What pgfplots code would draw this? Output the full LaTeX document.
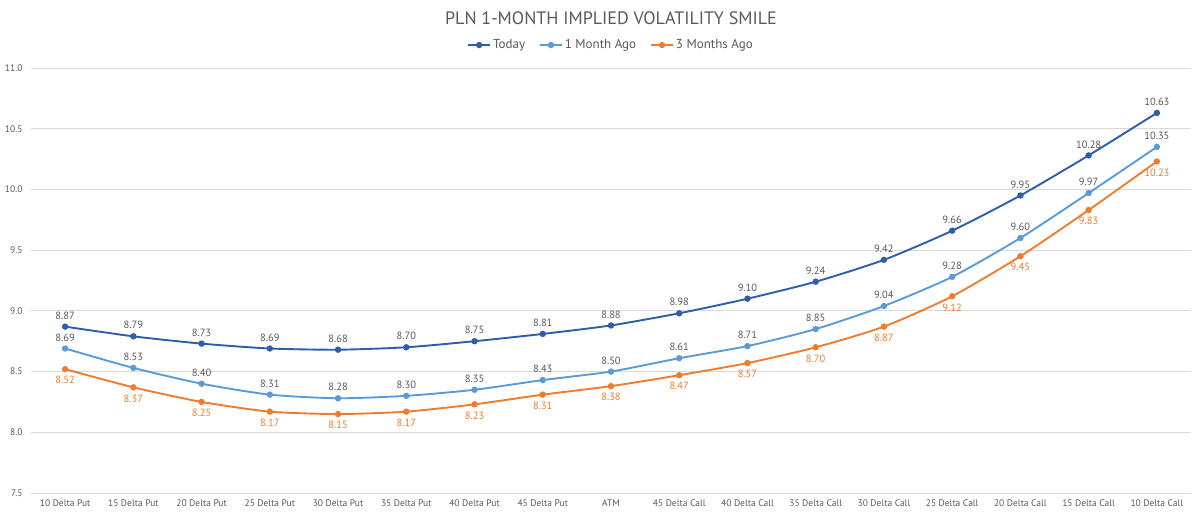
\documentclass[border=0pt]{standalone}
\usepackage{pgfplots}
\pgfplotsset{compat=1.18}
\usepackage{fontspec}
\setmainfont{PT Sans}
\definecolor{cToday}{HTML}{2E5EAA}
\definecolor{cOne}{HTML}{5B9BD5}
\definecolor{cThree}{HTML}{ED7D31}
\definecolor{cLab}{HTML}{595959}
\definecolor{cGrid}{HTML}{D9D9D9}
\begin{document}
\begin{tikzpicture}
\begin{axis}[
  scale only axis, width=1160pt, height=425pt,
  xmin=-0.5, xmax=16.5, ymin=7.5, ymax=11.0,
  ytick={7.5,8.0,...,11.0},
  yticklabel style={/pgf/number format/fixed,/pgf/number format/fixed zerofill,/pgf/number format/precision=1,font=\fontsize{9.5}{11}\selectfont,text=cLab,xshift=-5pt},
  /pgf/number format/assume math mode=true,
  xtick={0,...,16},
  xticklabels={10 Delta Put,15 Delta Put,20 Delta Put,25 Delta Put,30 Delta Put,35 Delta Put,40 Delta Put,45 Delta Put,ATM,45 Delta Call,40 Delta Call,35 Delta Call,30 Delta Call,25 Delta Call,20 Delta Call,15 Delta Call,10 Delta Call},
  xticklabel style={font=\fontsize{9.5}{11}\selectfont,text=cLab,yshift=-3pt},
  major tick length=0pt,
  axis line style={draw=none},
  ymajorgrids, grid style={cGrid,line width=0.8pt},
  legend columns=3,
  legend style={at={(0.5,1.054)},anchor=center,draw=none,fill=none,font=\fontsize{13}{15}\selectfont,text=cLab,/tikz/every even column/.append style={column sep=12pt}},
  legend image code/.code={\draw[#1,line width=1.8pt] (0pt,0pt)--(22pt,0pt); \fill[#1] (11pt,0pt) circle (2.2pt);},
  nodes near coords,
  point meta=y,
  every node near coord/.append style={font=\fontsize{10.5}{12}\selectfont,/pgf/number format/fixed,/pgf/number format/fixed zerofill,/pgf/number format/precision=2},
  clip=false,
]
\addplot[cToday,line width=1.9pt,mark=*,mark size=2.2pt,smooth,tension=0.4,
  every node near coord/.append style={text=cLab,anchor=south,yshift=3pt}]
  coordinates {(0,8.87)(1,8.79)(2,8.73)(3,8.69)(4,8.68)(5,8.70)(6,8.75)(7,8.81)(8,8.88)(9,8.98)(10,9.10)(11,9.24)(12,9.42)(13,9.66)(14,9.95)(15,10.28)(16,10.63)};
\addlegendentry{Today}
\addplot[cOne,line width=1.9pt,mark=*,mark size=2.2pt,smooth,tension=0.4,
  every node near coord/.append style={text=cLab,anchor=south,yshift=3pt}]
  coordinates {(0,8.69)(1,8.53)(2,8.40)(3,8.31)(4,8.28)(5,8.30)(6,8.35)(7,8.43)(8,8.50)(9,8.61)(10,8.71)(11,8.85)(12,9.04)(13,9.28)(14,9.60)(15,9.97)(16,10.35)};
\addlegendentry{1 Month Ago}
\addplot[cThree,line width=1.9pt,mark=*,mark size=2.2pt,smooth,tension=0.4,
  every node near coord/.append style={text=cThree,anchor=north,yshift=-3pt}]
  coordinates {(0,8.52)(1,8.37)(2,8.25)(3,8.17)(4,8.15)(5,8.17)(6,8.23)(7,8.31)(8,8.38)(9,8.47)(10,8.57)(11,8.70)(12,8.87)(13,9.12)(14,9.45)(15,9.83)(16,10.23)};
\addlegendentry{3 Months Ago}
\node[font=\fontsize{18}{21}\selectfont,text=cLab] at (axis description cs:0.5,1.118) {PLN 1-MONTH IMPLIED VOLATILITY SMILE};
\end{axis}
\path[use as bounding box] (-31pt,-25pt) rectangle (1169pt,493pt);
\end{tikzpicture}
\end{document}
